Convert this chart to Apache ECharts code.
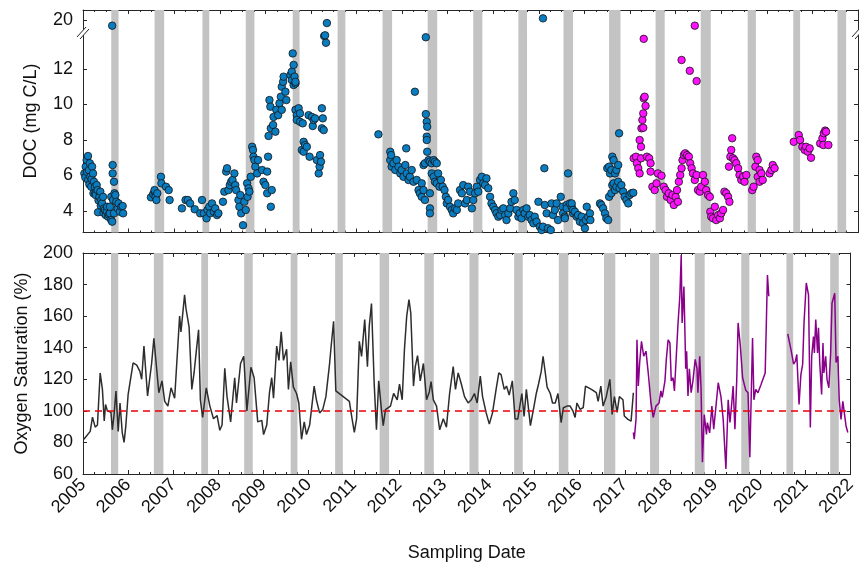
<!DOCTYPE html>
<html>
<head>
<meta charset="utf-8">
<script src="https://cdn.jsdelivr.net/npm/echarts@6/dist/echarts.min.js"></script>
<style>
  html, body { margin: 0; padding: 0; background: #fff; }
  #doc-oxygen { width: 859px; height: 563px; }
</style>
</head>
<body>
<div id="doc-oxygen"></div>
<script>
// shaded periods, decimal years
var bandStart = [2005.62, 2006.57, 2007.62, 2008.57, 2009.60, 2010.585, 2011.57, 2012.56, 2013.56,
  2014.55, 2015.54, 2016.54, 2017.56, 2018.55, 2019.58, 2020.58, 2021.55];
var bandEnd = [2005.78, 2006.78, 2007.77, 2008.76, 2009.75, 2010.755, 2011.78, 2012.77, 2013.76,
  2014.74, 2015.75, 2016.79, 2017.76, 2018.77, 2019.76, 2020.73, 2021.74];

var docTicks = [4, 6, 8, 10, 12];
var docBreakTicks = [20];

// DOC (mg C/L), first period (blue)
var docBlue = [
  [2005.03, 6.12], [2005.05, 5.9], [2005.06, 6.5], [2005.08, 6.87], [2005.09, 6.2], [2005.11, 7.1],
  [2005.11, 5.75], [2005.13, 6.3], [2005.14, 5.5], [2005.15, 6.69], [2005.16, 5.93], [2005.18, 5.37],
  [2005.19, 5.8], [2005.20, 6.5], [2005.22, 6.12], [2005.23, 5.0], [2005.24, 5.65], [2005.26, 5.37],
  [2005.27, 5.0], [2005.28, 4.9], [2005.30, 5.46], [2005.32, 5.18], [2005.33, 3.93], [2005.34, 4.6],
  [2005.36, 4.8], [2005.38, 5.09], [2005.39, 4.3], [2005.40, 4.62], [2005.42, 4.43], [2005.44, 4.8],
  [2005.45, 3.9], [2005.46, 4.15], [2005.48, 4.06], [2005.50, 3.77], [2005.52, 4.0], [2005.53, 4.24],
  [2005.55, 3.68], [2005.57, 3.8], [2005.59, 3.87], [2005.59, 4.24], [2005.62, 3.49], [2005.62, 4.8],
  [2005.64, 3.4], [2005.65, 6.59], [2005.65, 6.12], [2005.66, 4.62], [2005.68, 5.65], [2005.68, 3.87],
  [2005.69, 5.0], [2005.71, 4.9], [2005.73, 4.52], [2005.76, 4.15], [2005.78, 4.43], [2005.81, 3.96],
  [2005.84, 4.24], [2005.87, 4.28], [2005.88, 3.87],
  [2006.49, 4.77], [2006.54, 4.96], [2006.57, 5.09], [2006.57, 5.18], [2006.59, 4.8], [2006.61, 4.62],
  [2006.63, 5.0], [2006.71, 5.93], [2006.72, 5.56], [2006.82, 5.37], [2006.88, 5.18], [2006.90, 4.62],
  [2007.17, 4.15], [2007.25, 4.62], [2007.30, 4.62], [2007.35, 4.43], [2007.45, 4.1], [2007.57, 3.87],
  [2007.61, 4.62], [2007.65, 3.87], [2007.71, 3.59], [2007.73, 4.06], [2007.77, 4.24], [2007.79, 3.87],
  [2007.83, 4.43], [2007.87, 3.96], [2007.90, 4.15], [2007.94, 3.77], [2007.97, 3.87],
  [2008.07, 4.52], [2008.10, 5.09], [2008.14, 6.22], [2008.16, 6.41], [2008.19, 5.18], [2008.22, 5.46],
  [2008.25, 5.65], [2008.28, 5.75], [2008.32, 6.12], [2008.34, 5.46], [2008.36, 5.18], [2008.41, 4.62],
  [2008.43, 4.24], [2008.45, 4.9], [2008.47, 3.87], [2008.51, 3.2], [2008.54, 4.52], [2008.57, 4.06],
  [2008.60, 5.56], [2008.61, 4.8], [2008.63, 5.28], [2008.65, 5.09], [2008.68, 5.93], [2008.71, 7.62],
  [2008.73, 7.44], [2008.74, 7.06], [2008.76, 6.87], [2008.78, 6.5], [2008.82, 6.12], [2008.84, 6.87],
  [2008.93, 6.31], [2008.96, 5.65], [2009.00, 5.46], [2009.04, 6.22], [2009.04, 5.0], [2009.06, 7.06],
  [2009.07, 8.23], [2009.09, 10.25], [2009.11, 9.88], [2009.12, 8.66], [2009.14, 5.18], [2009.12, 4.24],
  [2009.17, 8.85], [2009.18, 9.3], [2009.22, 8.47], [2009.24, 9.7], [2009.28, 9.4], [2009.31, 10.07],
  [2009.34, 10.44], [2009.36, 11.0], [2009.39, 11.28], [2009.40, 11.57], [2009.44, 10.72], [2009.46, 10.25],
  [2009.36, 9.7], [2009.55, 11.66], [2009.58, 11.85], [2009.58, 11.38], [2009.60, 12.88], [2009.62, 12.23],
  [2009.62, 11.1], [2009.64, 11.57], [2009.66, 11.19], [2009.66, 11.28], [2009.66, 9.7], [2009.69, 9.4],
  [2009.69, 9.13], [2009.73, 9.79], [2009.76, 9.5], [2009.76, 9.03], [2009.80, 7.44], [2009.82, 8.94],
  [2009.84, 7.9], [2009.84, 7.34], [2009.87, 7.72], [2009.91, 7.62], [2009.95, 9.4], [2009.97, 7.06],
  [2010.02, 9.3], [2010.04, 8.79], [2010.06, 9.13], [2010.09, 9.22], [2010.13, 6.87], [2010.17, 6.12],
  [2010.19, 6.5], [2010.20, 7.15], [2010.22, 6.78], [2010.24, 9.79], [2010.24, 8.66], [2010.26, 9.22],
  [2010.28, 8.56], [2010.29, 13.86], [2010.31, 13.9], [2010.33, 13.48],
  [2011.48, 8.32],
  [2011.74, 7.34], [2011.74, 6.87], [2011.76, 7.15], [2011.77, 6.5], [2011.81, 6.69], [2011.85, 6.31],
  [2011.88, 6.87], [2011.92, 6.5], [2011.96, 6.12], [2011.99, 6.31], [2012.03, 5.93], [2012.07, 6.59],
  [2012.09, 7.53], [2012.10, 6.12], [2012.14, 5.75], [2012.17, 5.93], [2012.21, 6.31], [2012.25, 5.65],
  [2012.28, 10.72], [2012.32, 5.75], [2012.36, 5.18], [2012.39, 5.0], [2012.43, 4.8], [2012.43, 5.56],
  [2012.47, 5.18], [2012.47, 6.59], [2012.50, 4.62], [2012.50, 6.69], [2012.52, 9.46], [2012.52, 13.79],
  [2012.54, 9.03], [2012.54, 8.19], [2012.54, 8.0], [2012.55, 8.75], [2012.55, 7.34], [2012.58, 6.87],
  [2012.61, 6.78], [2012.61, 5.0], [2012.61, 4.15], [2012.61, 3.87], [2012.65, 6.69], [2012.65, 6.12],
  [2012.69, 6.87], [2012.69, 5.93], [2012.72, 6.78], [2012.72, 5.65], [2012.76, 6.69], [2012.76, 5.56],
  [2012.79, 6.12], [2012.82, 5.37], [2012.85, 5.75], [2012.89, 5.37], [2012.93, 5.18], [2012.96, 4.8],
  [2012.98, 4.43], [2013.01, 4.62], [2013.05, 4.24], [2013.09, 4.06], [2013.12, 3.87], [2013.16, 4.15],
  [2013.20, 4.06], [2013.23, 4.43], [2013.27, 5.18], [2013.31, 5.0], [2013.34, 5.46], [2013.38, 4.43],
  [2013.42, 4.62], [2013.45, 5.37], [2013.49, 5.09], [2013.53, 4.15], [2013.56, 4.62], [2013.60, 5.0],
  [2013.64, 5.37], [2013.67, 5.09], [2013.71, 5.75], [2013.75, 5.93], [2013.78, 5.56], [2013.82, 5.46],
  [2013.85, 5.84], [2013.89, 5.28], [2013.93, 4.8], [2013.96, 4.43], [2014.00, 4.24], [2014.04, 4.06],
  [2014.07, 3.87], [2014.11, 3.68], [2014.15, 3.77], [2014.18, 4.06], [2014.22, 4.15], [2014.26, 3.77],
  [2014.29, 3.49], [2014.33, 3.87], [2014.37, 4.15], [2014.40, 4.52], [2014.44, 5.0], [2014.47, 4.62],
  [2014.51, 4.06], [2014.55, 3.68], [2014.58, 3.87], [2014.62, 3.59], [2014.66, 4.06], [2014.69, 3.87],
  [2014.73, 4.15], [2014.77, 3.68], [2014.80, 3.77], [2014.84, 3.49], [2014.88, 3.31], [2014.91, 3.68],
  [2014.95, 3.4], [2014.99, 4.52], [2015.02, 3.12], [2015.06, 2.93], [2015.09, 3.12], [2015.12, 6.41],
  [2015.13, 4.34], [2015.17, 3.87], [2015.20, 3.03], [2015.26, 2.93], [2015.28, 4.43], [2015.31, 3.77],
  [2015.35, 4.06], [2015.39, 4.43], [2015.42, 3.49], [2015.48, 4.8], [2015.52, 4.24], [2015.53, 3.87],
  [2015.57, 3.68], [2015.57, 3.59], [2015.61, 4.34], [2015.61, 4.15], [2015.64, 6.12], [2015.68, 4.43],
  [2015.72, 4.24], [2015.72, 4.43], [2015.75, 3.87], [2015.75, 4.06], [2015.79, 3.96], [2015.83, 3.68],
  [2015.86, 3.77], [2015.90, 3.4], [2015.94, 3.68], [2015.97, 3.31], [2016.01, 3.03], [2016.03, 3.49],
  [2016.05, 4.24], [2016.08, 3.68], [2016.12, 3.87], [2016.13, 3.49],
  [2016.34, 4.43], [2016.37, 4.34], [2016.41, 4.15], [2016.45, 3.87], [2016.48, 3.59], [2016.52, 3.49],
  [2016.50, 6.41], [2016.54, 6.5], [2016.56, 6.12], [2016.59, 6.31], [2016.61, 7.06], [2016.64, 6.87],
  [2016.67, 6.12], [2016.70, 6.31], [2016.74, 6.59], [2016.76, 8.38], [2016.54, 4.8], [2016.59, 5.0],
  [2016.61, 5.46], [2016.64, 5.56], [2016.67, 5.18], [2016.70, 5.37], [2016.74, 5.65], [2016.77, 5.28],
  [2016.81, 5.46], [2016.85, 5.09], [2016.88, 4.8], [2016.92, 4.62], [2016.96, 4.43], [2016.99, 4.9],
  [2017.03, 5.0], [2017.07, 5.03]
];
var docBlueHigh = [[2005.64, 19.5], [2010.35, 19.75], [2015.09, 20.2]];

// DOC (mg C/L), second period (magenta)
var docPink = [
  [2017.08, 6.97], [2017.13, 7.06], [2017.15, 6.69], [2017.18, 6.41], [2017.21, 6.12], [2017.24, 6.97],
  [2017.21, 8.0], [2017.24, 7.62], [2017.25, 8.66], [2017.27, 9.13], [2017.29, 9.5], [2017.30, 10.35],
  [2017.32, 10.44], [2017.34, 9.92], [2017.29, 8.69], [2017.30, 13.7], [2017.37, 7.06], [2017.42, 6.97],
  [2017.45, 6.69], [2017.45, 6.22], [2017.49, 5.37], [2017.54, 5.18], [2017.58, 5.56], [2017.61, 6.12],
  [2017.69, 5.99], [2017.74, 5.37], [2017.78, 5.18], [2017.81, 4.8], [2017.85, 5.0], [2017.89, 4.62],
  [2017.93, 4.9], [2017.96, 4.34], [2018.00, 4.8], [2018.03, 5.18], [2018.05, 4.52], [2018.07, 5.65],
  [2018.10, 6.03], [2018.13, 12.51], [2018.13, 6.41], [2018.15, 6.87], [2018.18, 7.15], [2018.21, 7.25],
  [2018.25, 7.15], [2018.29, 7.06], [2018.31, 11.9], [2018.32, 6.69], [2018.35, 6.41], [2018.38, 6.12],
  [2018.42, 5.75], [2018.46, 11.32], [2018.46, 6.03], [2018.49, 5.18], [2018.53, 5.09], [2018.56, 5.37],
  [2018.60, 6.03], [2018.64, 5.65], [2018.67, 5.18], [2018.71, 4.9], [2018.75, 4.8], [2018.76, 3.96],
  [2018.78, 3.68], [2018.82, 3.59], [2018.86, 4.24], [2018.89, 3.49], [2018.93, 3.77], [2018.97, 3.59],
  [2019.00, 3.87], [2019.04, 4.06], [2019.07, 5.09], [2019.11, 5.0], [2019.15, 4.8], [2019.18, 4.52],
  [2019.17, 6.5], [2019.20, 7.06], [2019.22, 7.44], [2019.24, 8.1], [2019.26, 6.97], [2019.29, 6.87],
  [2019.33, 6.69], [2019.37, 6.41], [2019.40, 6.03], [2019.44, 5.75], [2019.48, 5.93], [2019.51, 5.65],
  [2019.55, 6.03], [2019.68, 5.18], [2019.71, 5.37], [2019.75, 6.5], [2019.77, 7.06], [2019.80, 6.87],
  [2019.80, 5.93], [2019.84, 6.31], [2019.84, 5.65], [2019.88, 6.12], [2019.91, 5.75],
  [2020.06, 6.12], [2020.10, 6.31], [2020.13, 6.59], [2020.17, 6.41],
  [2020.59, 7.9], [2020.70, 8.28], [2020.73, 8.0], [2020.78, 7.62], [2020.83, 7.44], [2020.86, 7.62],
  [2020.90, 7.34], [2020.94, 7.53], [2020.97, 7.0],
  [2021.17, 7.81], [2021.22, 8.1], [2021.24, 7.72], [2021.25, 8.38], [2021.28, 8.53], [2021.30, 8.47],
  [2021.35, 7.72]
];
var docPinkHigh = [[2018.42, 19.5]];

// oxygen saturation (%), first sensor (dark) and second (purple)
var o2Dark = [
  [2005.02, 82], [2005.16, 87], [2005.21, 96], [2005.27, 89.7], [2005.32, 91], [2005.38, 124],
  [2005.43, 113.6], [2005.47, 93.6], [2005.50, 104], [2005.54, 100], [2005.62, 99], [2005.65, 88],
  [2005.69, 98], [2005.73, 112.6], [2005.78, 87], [2005.82, 105], [2005.87, 86], [2005.91, 80],
  [2005.95, 91], [2006.00, 110.5], [2006.11, 130.4], [2006.19, 129], [2006.26, 125], [2006.30, 120],
  [2006.35, 141], [2006.43, 109.4], [2006.52, 130], [2006.57, 146], [2006.63, 127], [2006.68, 111.5],
  [2006.75, 119], [2006.81, 106], [2006.88, 103], [2006.95, 114.6], [2007.03, 108], [2007.14, 160],
  [2007.17, 150], [2007.25, 173.5], [2007.28, 165], [2007.35, 153], [2007.41, 113.6], [2007.46, 124],
  [2007.51, 138], [2007.56, 151.4], [2007.60, 107], [2007.65, 95.8], [2007.73, 114.6], [2007.81, 103],
  [2007.89, 95], [2007.97, 97], [2008.03, 87.7], [2008.08, 91], [2008.14, 127], [2008.19, 109],
  [2008.27, 93], [2008.36, 121], [2008.40, 105], [2008.49, 130], [2008.56, 134.6], [2008.63, 100],
  [2008.72, 127.6], [2008.79, 121], [2008.87, 93], [2008.96, 94], [2009.00, 85], [2009.07, 91],
  [2009.13, 111.5], [2009.18, 121], [2009.22, 108], [2009.29, 141], [2009.34, 132], [2009.39, 150],
  [2009.44, 132], [2009.51, 139], [2009.55, 113.5], [2009.60, 131], [2009.66, 115], [2009.73, 111],
  [2009.78, 105], [2009.84, 82], [2009.90, 93], [2009.95, 85], [2010.02, 91], [2010.12, 115.7],
  [2010.17, 107], [2010.24, 98.7], [2010.31, 100.8], [2010.38, 109], [2010.46, 129.4], [2010.49, 139],
  [2010.55, 156.7], [2010.60, 112.6], [2010.90, 106], [2010.95, 96.7], [2011.01, 86.3], [2011.06, 95],
  [2011.12, 144], [2011.17, 134.5], [2011.24, 157.8], [2011.30, 128], [2011.34, 153.5], [2011.39, 168],
  [2011.45, 117], [2011.50, 88], [2011.55, 119], [2011.61, 100.8], [2011.65, 90.6], [2011.70, 100.8],
  [2011.81, 103], [2011.88, 111], [2011.96, 107], [2012.01, 117], [2012.07, 107], [2012.12, 139],
  [2012.17, 160], [2012.22, 170.4], [2012.26, 162], [2012.32, 115.7], [2012.36, 128], [2012.41, 135],
  [2012.47, 119], [2012.54, 130], [2012.61, 107], [2012.67, 112], [2012.71, 118.5], [2012.76, 107],
  [2012.83, 103], [2012.90, 88], [2012.98, 95], [2013.05, 89.7], [2013.12, 111], [2013.20, 128],
  [2013.25, 113.6], [2013.31, 124], [2013.38, 117], [2013.45, 109], [2013.53, 105], [2013.60, 107],
  [2013.67, 111], [2013.73, 105], [2013.80, 122], [2013.85, 109], [2013.93, 98.7], [2014.00, 91.6],
  [2014.07, 98.7], [2014.15, 113.6], [2014.21, 124], [2014.26, 123], [2014.33, 113.6], [2014.38, 115.7],
  [2014.44, 110], [2014.51, 119], [2014.57, 94.8], [2014.63, 94.8], [2014.72, 111], [2014.77, 96.5],
  [2014.82, 113.6], [2014.91, 90.6], [2014.99, 103], [2015.04, 111], [2015.09, 117], [2015.15, 125],
  [2015.19, 134.6], [2015.24, 124], [2015.28, 115], [2015.35, 111], [2015.40, 105], [2015.46, 105],
  [2015.52, 111], [2015.59, 92.6], [2015.64, 102], [2015.72, 103], [2015.79, 103], [2015.85, 100],
  [2015.90, 95.8], [2015.94, 105], [2016.01, 101], [2016.08, 102], [2016.13, 115.7], [2016.26, 113.6],
  [2016.37, 111.5], [2016.41, 106], [2016.47, 115.7], [2016.52, 103], [2016.59, 109], [2016.67, 120],
  [2016.72, 97.7], [2016.77, 109], [2016.83, 99], [2016.88, 109], [2016.96, 107], [2016.99, 96.7],
  [2017.07, 94.6], [2017.14, 93.5], [2017.19, 111.5]
];
var o2Purple = [
  [2017.19, 86.3], [2017.21, 82], [2017.25, 95], [2017.27, 145], [2017.30, 115.7], [2017.33, 130.6],
  [2017.37, 144], [2017.42, 134.6], [2017.47, 137.8], [2017.52, 124], [2017.58, 105], [2017.63, 95.8],
  [2017.69, 103], [2017.76, 105], [2017.80, 112.6], [2017.83, 108.5], [2017.89, 119], [2017.92, 132.5],
  [2017.96, 145], [2018.00, 143], [2018.03, 119], [2018.07, 121], [2018.10, 112.6], [2018.18, 155.7],
  [2018.22, 172.6], [2018.25, 198.7], [2018.27, 155.7], [2018.31, 178.8], [2018.35, 126.7], [2018.37, 137.8],
  [2018.40, 109.4], [2018.43, 126.7], [2018.47, 111.5], [2018.51, 119], [2018.56, 132.6], [2018.60, 126.7],
  [2018.62, 111.5], [2018.66, 134.6], [2018.69, 113.6], [2018.72, 67.4], [2018.76, 97.7], [2018.81, 85],
  [2018.83, 92.6], [2018.88, 86], [2018.93, 103], [2018.97, 88.4], [2019.02, 103], [2019.07, 117.8],
  [2019.13, 109], [2019.18, 94.6], [2019.24, 63.2], [2019.29, 107], [2019.33, 92.6], [2019.37, 105],
  [2019.40, 115.7], [2019.44, 88.4], [2019.48, 119.8], [2019.51, 155.7], [2019.56, 141], [2019.61, 121],
  [2019.68, 113], [2019.73, 111.5], [2019.77, 70.6], [2019.83, 146.2], [2019.86, 107], [2019.90, 113.6],
  [2019.95, 111.5], [2020.02, 116.8], [2020.11, 124], [2020.16, 186], [2020.19, 172.6],
  [2020.40, null],
  [2020.61, 148.8], [2020.68, 139], [2020.74, 129.6], [2020.78, 131.5], [2020.81, 135.7], [2020.86, 104],
  [2020.90, 122.8], [2020.94, 129.6], [2020.97, 155.7], [2021.02, 181], [2021.07, 173.5], [2021.11, 89.5],
  [2021.14, 134.6], [2021.18, 147], [2021.20, 136.6], [2021.23, 157.8], [2021.27, 136.6], [2021.29, 152.6],
  [2021.32, 129.6], [2021.36, 110.4], [2021.39, 143], [2021.41, 124], [2021.45, 134.6], [2021.48, 119.8],
  [2021.52, 114.6], [2021.56, 136.6], [2021.59, 168.2], [2021.65, 174.5], [2021.68, 130.6], [2021.72, 134.6],
  [2021.75, 107], [2021.79, 94.6], [2021.83, 106], [2021.86, 106], [2021.90, 90.6], [2021.94, 86.3]
];

var bands = bandStart.map(function (s, i) { return [s, bandEnd[i]]; });

var font = "Liberation Sans";
var axisColor = "#262626";
var blue = "#0a7cc0";
var pink = "#ff10ff";

function renderBand(params, api) {
  var cs = params.coordSys;
  var x0 = api.coord([api.value(0), 0])[0];
  var x1 = api.coord([api.value(1), 0])[0];
  return {
    type: "rect",
    shape: { x: x0, y: cs.y, width: x1 - x0, height: cs.height },
    style: { fill: "#c3c3c3" }
  };
}

function bandSeries(xi, yi) {
  return {
    type: "custom",
    xAxisIndex: xi,
    yAxisIndex: yi,
    data: bands,
    encode: { x: [0, 1] },
    renderItem: renderBand,
    silent: true,
    z: 1
  };
}

function xAxisDef(grid, pos, showLabel) {
  return {
    type: "value",
    gridIndex: grid,
    position: pos,
    min: 2005,
    max: 2022,
    interval: 1,
    axisLine: { show: true, onZero: false, lineStyle: { color: axisColor, width: 1 } },
    axisTick: { show: true, inside: true, length: 4, lineStyle: { color: axisColor } },
    minorTick: { show: true, splitNumber: 4, length: 2, lineStyle: { color: axisColor } },
    splitLine: { show: false },
    axisLabel: {
      show: showLabel,
      rotate: 45,
      margin: 8,
      fontFamily: font,
      fontSize: 18,
      color: "#111",
      formatter: function (v) { return String(v); }
    }
  };
}

function yAxisDef(grid, pos, min, max, ticks, showLabel) {
  var ax = {
    type: "value",
    gridIndex: grid,
    position: pos,
    min: min,
    max: max,
    axisLine: { show: true, onZero: false, lineStyle: { color: axisColor, width: 1 } },
    axisTick: { show: true, inside: true, length: 4, lineStyle: { color: axisColor } },
    splitLine: { show: false },
    axisLabel: { show: showLabel, margin: 10, fontFamily: font, fontSize: 18, color: "#111" }
  };
  if (ticks) {
    ax.axisTick.customValues = ticks;
    ax.axisLabel.customValues = ticks;
  } else {
    ax.interval = 20;
  }
  return ax;
}

function docSeries(xi, yi, data, color) {
  return {
    type: "scatter",
    xAxisIndex: xi,
    yAxisIndex: yi,
    data: data,
    symbolSize: 7.5,
    itemStyle: { color: color, opacity: 1, borderColor: "#141414", borderWidth: 0.8 },
    z: 3
  };
}

var option = {
  backgroundColor: "#fff",
  animation: false,
  grid: [
    { left: 83, top: 10, width: 775, height: 23 },
    { left: 83, top: 33, width: 775, height: 199.5 },
    { left: 83, top: 253, width: 775, height: 222 }
  ],
  xAxis: [
    xAxisDef(0, "top", false),
    xAxisDef(1, "bottom", false),
    Object.assign(xAxisDef(2, "bottom", true), {
      name: "Sampling Date",
      nameLocation: "middle",
      nameGap: 70,
      nameTextStyle: { fontFamily: font, fontSize: 18, color: "#111" }
    }),
    xAxisDef(2, "top", false)
  ],
  yAxis: [
    yAxisDef(0, "left", 18.8, 21, docBreakTicks, true),
    yAxisDef(0, "right", 18.8, 21, docBreakTicks, false),
    yAxisDef(1, "left", 2.79, 14.03, docTicks, true),
    yAxisDef(1, "right", 2.79, 14.03, docTicks, false),
    Object.assign(yAxisDef(2, "left", 60, 200, null, true), {
      name: "Oxygen Saturation (%)",
      nameLocation: "middle",
      nameGap: 52,
      nameTextStyle: { fontFamily: font, fontSize: 18, color: "#111" }
    }),
    yAxisDef(2, "right", 60, 200, null, false)
  ],
  graphic: [
    {
      type: "text",
      x: 31,
      y: 121,
      rotation: Math.PI / 2,
      style: {
        text: "DOC (mg C/L)",
        fontFamily: font,
        fontSize: 18,
        fill: "#111",
        align: "center",
        verticalAlign: "middle"
      }
    },
    // axis break marks
    { type: "polygon", shape: { points: [[77, 37], [86, 27], [89, 29], [80, 39]] }, style: { fill: "#fff" }, z: 100 },
    { type: "line", shape: { x1: 77, y1: 37, x2: 86, y2: 27 }, style: { stroke: axisColor, lineWidth: 1 }, z: 101 },
    { type: "line", shape: { x1: 80, y1: 39, x2: 89, y2: 29 }, style: { stroke: axisColor, lineWidth: 1 }, z: 101 },
    { type: "polygon", shape: { points: [[852, 37], [861, 27], [864, 29], [855, 39]] }, style: { fill: "#fff" }, z: 100 },
    { type: "line", shape: { x1: 852, y1: 37, x2: 861, y2: 27 }, style: { stroke: axisColor, lineWidth: 1 }, z: 101 },
    { type: "line", shape: { x1: 855, y1: 39, x2: 864, y2: 29 }, style: { stroke: axisColor, lineWidth: 1 }, z: 101 }
  ],
  series: [
    bandSeries(0, 0),
    bandSeries(1, 2),
    bandSeries(2, 4),
    docSeries(1, 2, docBlue, blue),
    docSeries(0, 0, docBlueHigh, blue),
    docSeries(1, 2, docPink, pink),
    docSeries(0, 0, docPinkHigh, pink),
    {
      name: "O2",
      type: "line",
      xAxisIndex: 2,
      yAxisIndex: 4,
      data: o2Dark,
      showSymbol: false,
      lineStyle: { color: "#2d2d2d", width: 1.5 },
      z: 3,
      markLine: {
        silent: true,
        symbol: "none",
        label: { show: false },
        lineStyle: { color: "#e8000b", type: [7, 5], width: 1.5 },
        data: [{ yAxis: 100 }]
      }
    },
    {
      name: "O2 2",
      type: "line",
      xAxisIndex: 2,
      yAxisIndex: 4,
      data: o2Purple,
      showSymbol: false,
      connectNulls: false,
      lineStyle: { color: "#8a008a", width: 1.5 },
      z: 3
    }
  ]
};

var chart = echarts.init(document.getElementById("doc-oxygen"), null, { renderer: "canvas" });
chart.setOption(option);
</script>
</body>
</html>
